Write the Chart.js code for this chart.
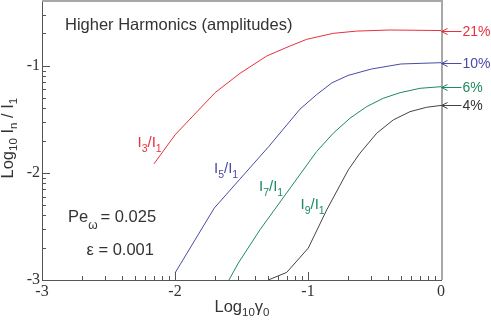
<!DOCTYPE html>
<html><head><meta charset="utf-8">
<script src="https://cdn.jsdelivr.net/npm/chart.js@4/dist/chart.umd.min.js"></script>
<style>html,body{margin:0;padding:0;background:#fff;}canvas{display:block;}</style>
</head><body>
<canvas id="c" width="491" height="320"></canvas>
<script>
// ---- data (log10 gamma0 , log10 In/I1) ----
const logGamma3 = [-2.158, -2.000, -1.699, -1.511, -1.311, -1.135, -1.010, -0.810, -0.634, -0.383, 0];
const logRatio3 = [-1.916, -1.646, -1.252, -1.071, -0.910, -0.816, -0.754, -0.698, -0.677, -0.667, -0.672];

const logGamma5 = [-2.000, -1.705, -1.516, -1.294, -1.060, -0.935, -0.820, -0.699, -0.523, -0.301, 0];
const logRatio5 = [-2.935, -2.329, -2.064, -1.753, -1.405, -1.270, -1.160, -1.091, -1.031, -0.984, -0.972];

const logGamma7 = [-1.594, -1.524, -1.361, -1.035, -0.935, -0.810, -0.684, -0.559, -0.434, -0.308, -0.158, 0];
const logRatio7 = [-3.000, -2.842, -2.531, -1.972, -1.801, -1.630, -1.490, -1.382, -1.304, -1.252, -1.211, -1.196];

const logGamma9 = [-1.299, -1.160, -0.998, -0.859, -0.697, -0.609, -0.483, -0.359, -0.233, -0.108, 0];
const logRatio9 = [-3.000, -2.929, -2.702, -2.345, -1.972, -1.816, -1.630, -1.506, -1.429, -1.388, -1.371];

const endLabels = ['21%', '10%', '6%', '4%'];
const curveLabels = [['I','3','/','I','1'], ['I','5','/','I','1'], ['I','7','/','I','1'], ['I','9','/','I','1']];
const xRange = [-3, 0];
const yRange = [-3, -0.4];

// ---- styles ----
const colors = ['#e8303f', '#4a4aa8', '#1f8a60', '#444444'];
const labelColors = ['#e8303f', '#4a4aa8', '#1f8a60', '#1f8a60'];
const SANS = '"Liberation Sans", Arial, sans-serif';
const SERIF = '"Liberation Serif", "Times New Roman", serif';

function pts(xs, ys) { return xs.map((x, i) => ({x: x, y: ys[i]})); }
function isInt(v) { return Math.abs(v - Math.round(v)) < 1e-9; }
function logTicks(min, max) {
  const out = [];
  for (let d = Math.floor(min); d <= Math.ceil(max); d++) {
    for (let k = 1; k <= 9; k++) {
      const v = d + Math.log10(k);
      if (v >= min - 1e-9 && v <= max + 1e-9) out.push({value: v});
    }
  }
  return out;
}

// rich text: parts = [[text, isSub]], draws left to right
function rich(ctx, parts, x, y, size, subSize, subDy) {
  let cx = x;
  parts.forEach(p => {
    const sub = p[1];
    ctx.font = (sub ? subSize : size) + 'px ' + SANS;
    ctx.fillText(p[0], cx, sub ? y + subDy : y);
    cx += ctx.measureText(p[0]).width + (p[2] || 0);
  });
}

const overlay = {
  id: 'overlay',
  afterDatasetsDraw(chart) {
    const {ctx, chartArea: a, scales: {x, y}} = chart;
    ctx.save();
    // inward tick marks
    ctx.strokeStyle = '#555'; ctx.lineWidth = 1;
    ctx.beginPath();
    x.ticks.forEach(t => {
      const px = Math.round(x.getPixelForValue(t.value)) + 0.5;
      const len = isInt(t.value) ? 8 : 4;
      ctx.moveTo(px, a.bottom); ctx.lineTo(px, a.bottom - len);
    });
    y.ticks.forEach(t => {
      const py = Math.round(y.getPixelForValue(t.value)) + 0.5;
      const len = isInt(t.value) ? 8 : 4;
      ctx.moveTo(a.left, py); ctx.lineTo(a.left + len, py);
    });
    ctx.stroke();
    // top / right frame
    ctx.strokeStyle = '#a8a8a8'; ctx.lineWidth = 2;
    ctx.beginPath();
    ctx.moveTo(a.left, a.top - 0.4); ctx.lineTo(a.right + 1, a.top - 0.4); ctx.lineTo(a.right + 1, a.bottom);
    ctx.stroke();

    // end arrows + percentages
    chart.data.datasets.forEach((ds, i) => {
      const last = ds.data[ds.data.length - 1];
      const py = Math.round(y.getPixelForValue(last.y)) + 0.5;
      const tip = a.right + 0.5;
      ctx.strokeStyle = colors[i]; ctx.lineWidth = 1;
      ctx.beginPath();
      ctx.moveTo(tip, py); ctx.lineTo(tip + 20, py);
      ctx.moveTo(tip + 6, py - 3); ctx.lineTo(tip, py); ctx.lineTo(tip + 6, py + 3);
      ctx.stroke();
      ctx.fillStyle = i === 3 ? '#333' : colors[i];
      ctx.font = '14px ' + SANS;
      ctx.textBaseline = 'middle';
      ctx.textAlign = 'left';
      ctx.fillText(endLabels[i], tip + 21, py + 0.5);
    });

    // texts
    ctx.textBaseline = 'alphabetic';
    ctx.textAlign = 'left';
    ctx.fillStyle = '#333';
    ctx.font = '16.5px ' + SANS;
    ctx.fillText('Higher Harmonics (amplitudes)', 65, 30);
    rich(ctx, [['Pe', false], ['\u03c9', true, 3], ['= 0.025', false]], 68, 221.5, 16.5, 12, 7);
    ctx.font = '16.5px ' + SANS;
    ctx.fillText('\u03b5 = 0.001', 86.5, 255);

    // curve labels
    const lpos = [[137.5, 147], [214, 172.5], [259, 191], [300.5, 209]];
    curveLabels.forEach((c, i) => {
      ctx.fillStyle = labelColors[i];
      rich(ctx, [[c[0], false], [c[1], true], [c[2], false], [c[3], false], [c[4], true]], lpos[i][0], lpos[i][1], 15, 10.5, 5);
    });

    // axis titles
    ctx.fillStyle = '#333';
    rich(ctx, [['Log', false], ['10', true], ['\u03b3', false], ['0', true]], 214.5, 311.5, 16.5, 11.5, 4.5);
    ctx.save();
    ctx.translate(12.5, 178.5);
    ctx.rotate(-Math.PI / 2);
    rich(ctx, [['Log', false], ['10', true, 0], [' I', false], ['n', true], [' / I', false], ['1', true]], 0, 0, 16.5, 11.5, 4.5);
    ctx.restore();
    ctx.restore();
  }
};

function lbl(v) { return isInt(v) ? String(Math.round(v)) : ''; }

new Chart(document.getElementById('c'), {
  type: 'line',
  data: {
    datasets: [
      {data: pts(logGamma3, logRatio3)},
      {data: pts(logGamma5, logRatio5)},
      {data: pts(logGamma7, logRatio7)},
      {data: pts(logGamma9, logRatio9)}
    ].map((d, i) => Object.assign(d, {borderColor: colors[i], borderWidth: 1, pointRadius: 0, tension: 0, fill: false}))
  },
  options: {
    responsive: false, animation: false, devicePixelRatio: 1,
    layout: {padding: {top: 1.4, right: 50, left: 0, bottom: 0}},
    plugins: {legend: {display: false}, tooltip: {enabled: false}},
    scales: {
      x: {
        type: 'linear', min: xRange[0], max: xRange[1],
        afterBuildTicks: s => { s.ticks = logTicks(xRange[0], xRange[1]); },
        afterFit: s => { s.height = 40; s.paddingLeft = 0; s.paddingRight = 0; s.paddingTop = 0; s.paddingBottom = 0; },
        grid: {display: false, drawTicks: false},
        border: {display: true, color: '#555', width: 1},
        ticks: {autoSkip: false, maxRotation: 0, padding: 2, color: '#333', font: {family: SERIF, size: 16}, callback: lbl}
      },
      y: {
        type: 'linear', min: yRange[0], max: yRange[1],
        afterBuildTicks: s => { s.ticks = logTicks(yRange[0], yRange[1]); },
        afterFit: s => { s.width = 42; s.paddingLeft = 0; s.paddingRight = 0; s.paddingTop = 0; s.paddingBottom = 0; },
        grid: {display: false, drawTicks: false},
        border: {display: true, color: '#555', width: 1},
        ticks: {autoSkip: false, padding: 2, color: '#333', font: {family: SERIF, size: 16}, callback: lbl}
      }
    }
  },
  plugins: [overlay]
});
</script>
</body></html>
